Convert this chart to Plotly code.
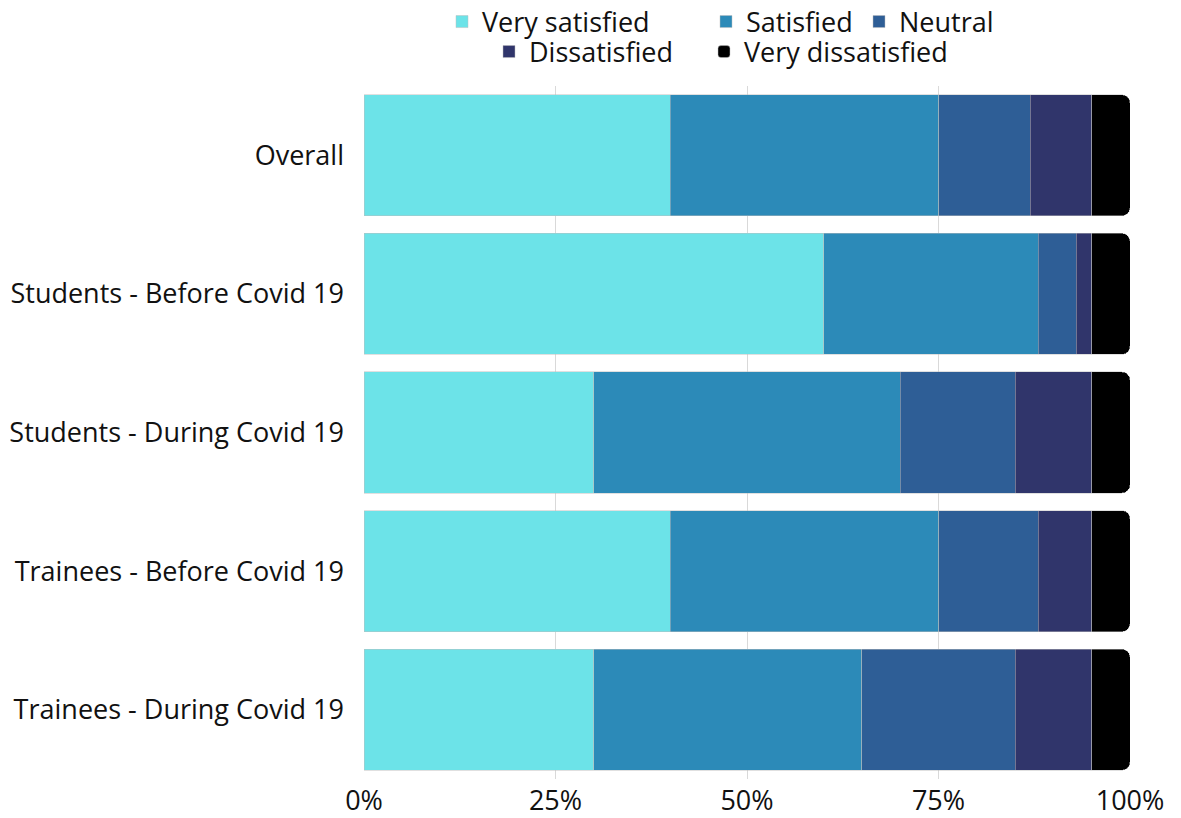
import plotly.graph_objects as go

# Survey groups, shown top to bottom
groups = [
    "Overall",
    "Students - Before Covid 19",
    "Students - During Covid 19",
    "Trainees - Before Covid 19",
    "Trainees - During Covid 19",
]

# Share of responses per satisfaction level (fractions of 1)
very_satisfied = [0.40, 0.60, 0.30, 0.40, 0.30]
satisfied = [0.35, 0.28, 0.40, 0.35, 0.35]
neutral = [0.12, 0.05, 0.15, 0.13, 0.20]
dissatisfied = [0.08, 0.02, 0.10, 0.07, 0.10]
very_dissatisfied = [0.05, 0.05, 0.05, 0.05, 0.05]

levels = ["Very satisfied", "Satisfied", "Neutral", "Dissatisfied", "Very dissatisfied"]
series = [very_satisfied, satisfied, neutral, dissatisfied, very_dissatisfied]
colors = ["#6ce3e8", "#2c8ab8", "#2e5e96", "#30356b", "#000000"]

tick_vals = [0, 0.25, 0.5, 0.75, 1.0]
tick_text = ["0%", "25%", "50%", "75%", "100%"]

FONT = "Open Sans"
FSIZE = 27
W, H = 1181, 818

# Each legend entry gets its own legend box so the two centred rows
# keep their natural spacing: (legend id, left px, row centre px)
legend_slots = [
    ("legend", 442, 22),
    ("legend2", 706, 22),
    ("legend3", 859, 22),
    ("legend4", 489, 52),
    ("legend5", 704, 52),
]

fig = go.Figure()
for i, (name, vals, col) in enumerate(zip(levels, series, colors)):
    marker = dict(color=col, line=dict(color="rgba(190,190,190,0.8)", width=0.6))
    if i == len(levels) - 1:
        # round only the outer end of each stacked bar
        marker["cornerradius"] = 8
    fig.add_trace(go.Bar(
        name=name,
        y=groups,
        x=vals,
        orientation="h",
        marker=marker,
        legend=legend_slots[i][0],
        showlegend=True,
        hoverinfo="x+y+name",
    ))

legend_layout = {}
for lid, left, cy in legend_slots:
    legend_layout[lid] = dict(
        orientation="h",
        xref="container",
        yref="container",
        x=left / W,
        xanchor="left",
        y=1 - cy / H,
        yanchor="middle",
        font=dict(family=FONT, size=FSIZE, color="#111111"),
        itemclick=False,
        itemdoubleclick=False,
        bgcolor="rgba(0,0,0,0)",
        visible=True,
    )

fig.update_layout(
    width=W,
    height=H,
    showlegend=True,
    barmode="stack",
    bargap=0.126,
    plot_bgcolor="white",
    paper_bgcolor="white",
    margin=dict(l=364, r=51, t=86, b=39, autoexpand=False),
    font=dict(family=FONT, size=FSIZE, color="#111111"),
    xaxis=dict(
        range=[0, 1],
        tickvals=tick_vals,
        ticktext=tick_text,
        showgrid=True,
        gridcolor="#d9d9d9",
        gridwidth=1,
        zeroline=False,
        showline=False,
        ticks="",
        ticklabelstandoff=3,
        tickfont=dict(family=FONT, size=FSIZE, color="#111111"),
    ),
    yaxis=dict(
        categoryorder="array",
        categoryarray=groups,
        autorange="reversed",
        showgrid=False,
        zeroline=False,
        showline=False,
        ticks="",
        ticklabelstandoff=19,
        tickfont=dict(family=FONT, size=FSIZE, color="#111111"),
    ),
    **legend_layout,
)

fig.write_html("out.html")
